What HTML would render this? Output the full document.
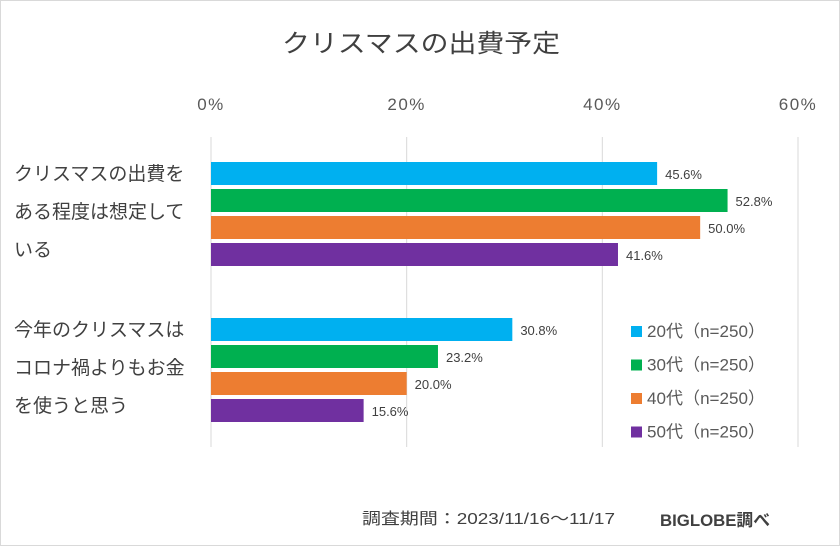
<!DOCTYPE html>
<html><head><meta charset="utf-8"><style>
body{margin:0;background:#fff}
svg text{font-family:"Liberation Sans","Noto Sans CJK JP",sans-serif}
</style></head><body>
<svg id="c" width="840" height="546">
<rect x="0.5" y="0.5" width="839" height="545" fill="#fff" stroke="#d9d9d9"/>
<text x="282" y="52" font-size="25" textLength="278" lengthAdjust="spacingAndGlyphs" fill="#404040">クリスマスの出費予定</text>
<g id="grid"></g><g id="bars"></g><g id="cats"></g><g id="legend"></g>
<text x="362" y="524" font-size="16" textLength="253" lengthAdjust="spacingAndGlyphs" fill="#404040">調査期間：2023/11/16～11/17</text>
<text x="660" y="526" font-size="17" font-weight="bold" textLength="110" lengthAdjust="spacingAndGlyphs" fill="#404040">BIGLOBE調べ</text>
</svg>
<script>
const ticks=[0,20,40,60];
const tickLabels=["0%","20%","40%","60%"];
const series=["20代（n=250）","30代（n=250）","40代（n=250）","50代（n=250）"];
const colors=["#00b0f0","#00b050","#ed7d31","#7030a0"];
const cat1=[45.6,52.8,50.0,41.6];
const cat2=[30.8,23.2,20.0,15.6];
const categories=[["クリスマスの出費を","ある程度は想定して","いる"],["今年のクリスマスは","コロナ禍よりもお金","を使うと思う"]];
const values=[cat1,cat2];
const NS="http://www.w3.org/2000/svg";
const x=v=>211+v*(798-211)/60;
function mk(t,a,p,txt){const e=document.createElementNS(NS,t);for(const k in a)e.setAttribute(k,a[k]);if(txt!==undefined)e.textContent=txt;p.appendChild(e);return e;}
const g=document.getElementById('grid');
ticks.forEach((t,i)=>{
 const l=mk('line',{x1:x(t),x2:x(t),y1:137,y2:447,stroke:'#d9d9d9'},g);
 
 
 const tx=mk('text',{x:x(t),y:110,'text-anchor':'middle','font-size':17,'letter-spacing':'1.5',fill:'#595959'},g,tickLabels[i]);
 
 
});
const b=document.getElementById('bars'),c=document.getElementById('cats');
const groupTop=[162,318];
values.forEach((vals,gi)=>{
 vals.forEach((v,si)=>{
  const y=groupTop[gi]+si*27;
  const r=mk('rect',{x:x(0),y:y,width:x(v)-x(0),height:23,fill:colors[si]},b);
  
  
  const t=mk('text',{x:x(v)+8,y:y+17,'font-size':13,fill:'#404040'},b,v.toFixed(1)+'%');
  
  
 });
 categories[gi].forEach((line,li)=>{
  const t=mk('text',{x:14,y:groupTop[gi]+18+li*38,'font-size':19,fill:'#404040'},c,line);
  
  
 });
});
const lg=document.getElementById('legend');
series.forEach((s,i)=>{
 const y=336+i*33.5;
 const r=mk('rect',{x:631,y:y-10,width:11,height:11,fill:colors[i]},lg);
 
 
 const t=mk('text',{x:647,y:y+1,'font-size':17,textLength:118,lengthAdjust:'spacingAndGlyphs',fill:'#595959'},lg,s);
 
 
});
</script>
</body></html>
